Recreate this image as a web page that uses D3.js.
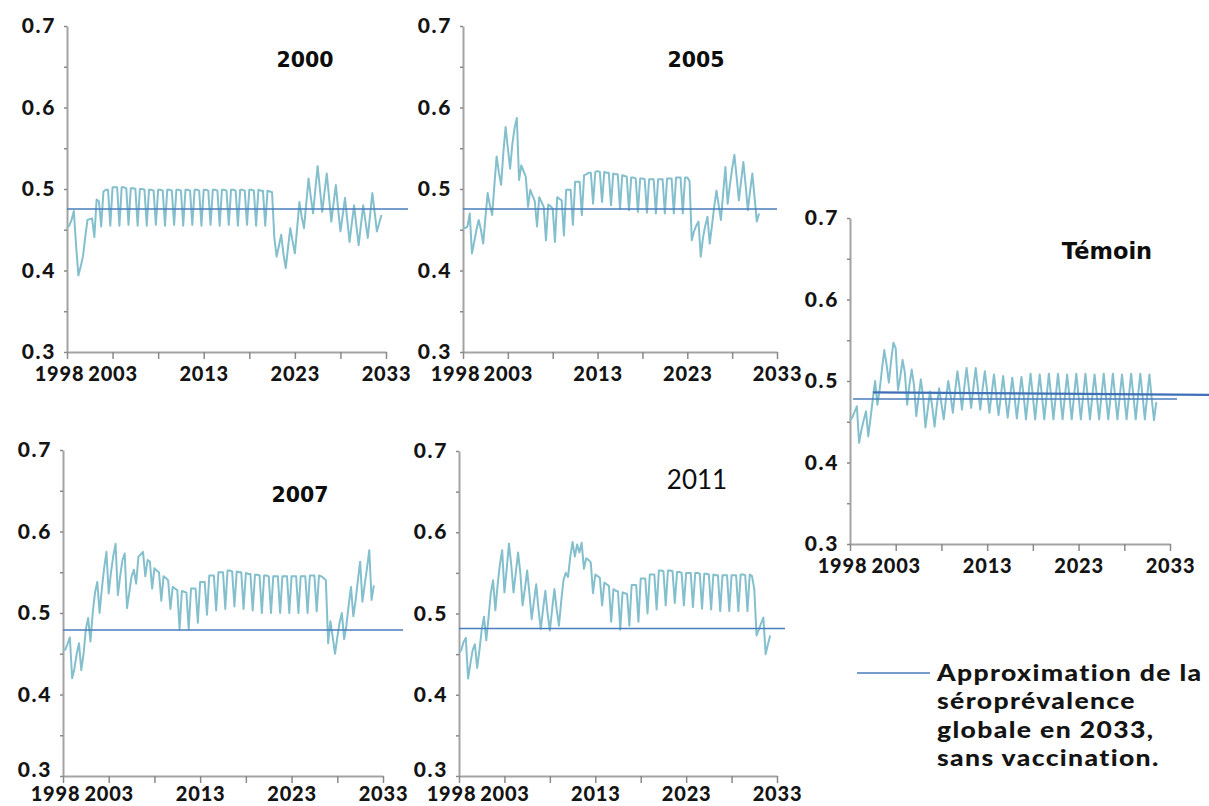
<!DOCTYPE html>
<html>
<head>
<meta charset="utf-8">
<script src="https://cdn.jsdelivr.net/npm/d3@7"></script>
<style>
  body { margin: 0; background: #fff; }
  svg { display: block; }
</style>
</head>
<body>
<svg id="chart" width="1209" height="806"></svg>
<script>
// ---- Data -----------------------------------------------------------------
// Quarterly seroprevalence, first sample at 1998.0, one row per year.
const startYear = 1998;
const step = 0.25;

const series2000 = [
  .452,.455,.462,.473, .430,.394,.405,.417, .441,.462,.463,.464, .441,.487,.485,.454,
  .497,.499,.499,.455, .502,.502,.502,.455, .502,.502,.501,.456, .501,.501,.500,.455,
  .500,.500,.499,.455, .499,.499,.498,.456, .499,.499,.498,.455, .499,.499,.498,.456,
  .499,.499,.498,.455, .499,.499,.498,.456, .499,.499,.498,.455, .499,.499,.498,.456,
  .499,.499,.498,.455, .499,.499,.498,.456, .499,.499,.498,.455, .499,.499,.498,.456,
  .499,.499,.498,.455, .499,.498,.498,.455, .498,.497,.496,.440, .417,.430,.444,.420,
  .403,.428,.452,.436, .421,.452,.484,.466, .452,.482,.513,.490, .470,.500,.528,.500,
  .472,.496,.519,.490, .460,.483,.505,.475, .448,.468,.489,.462, .435,.458,.480,.455,
  .431,.456,.480,.460, .440,.468,.495,.472, .448,.458,.468
];

const series2005 = [
  .452,.452,.454,.470, .421,.435,.450,.462, .450,.433,.465,.495, .480,.468,.505,.540,
  .520,.505,.545,.576, .550,.525,.555,.575, .587,.511,.529,.522, .515,.478,.499,.492,
  .485,.454,.490,.484, .478,.437,.481,.479, .476,.435,.490,.488, .486,.443,.499,.499,
  .499,.456,.509,.509, .509,.468,.517,.518, .520,.520,.482,.521, .522,.521,.484,.521,
  .520,.520,.480,.519, .518,.518,.476,.517, .516,.515,.474,.514, .514,.513,.472,.513,
  .513,.512,.471,.512, .512,.512,.470,.512, .512,.512,.470,.513, .513,.513,.470,.514,
  .514,.514,.470,.514, .514,.510,.437,.448, .455,.460,.417,.440, .455,.466,.433,.455,
  .478,.498,.480,.462, .495,.527,.482,.505, .525,.542,.515,.486, .510,.533,.505,.474,
  .497,.519,.490,.460, .470
];

const series2007 = [
  .455,.455,.462,.470, .420,.432,.450,.463, .430,.450,.480,.494, .465,.500,.525,.538,
  .500,.530,.555,.575, .524,.550,.570,.585, .522,.545,.565,.573, .506,.525,.545,.553,
  .536,.569,.572,.575, .545,.565,.563,.530, .555,.552,.550,.515, .545,.543,.540,.505,
  .532,.530,.528,.480, .527,.526,.525,.480, .530,.530,.530,.488, .538,.538,.538,.498,
  .546,.546,.546,.503, .550,.550,.550,.505, .552,.552,.551,.508, .551,.550,.550,.505,
  .549,.548,.548,.503, .547,.547,.546,.500, .546,.546,.545,.500, .545,.545,.545,.500,
  .545,.545,.545,.500, .545,.545,.545,.500, .545,.545,.545,.500, .546,.546,.546,.502,
  .546,.545,.543,.540, .463,.490,.470,.450, .470,.488,.500,.468, .485,.510,.532,.496,
  .515,.540,.563,.514, .535,.555,.577,.516, .534
];

const series2011 = [
  .452,.455,.465,.470, .420,.438,.455,.462, .433,.455,.480,.496, .467,.495,.525,.541,
  .504,.535,.560,.578, .526,.555,.586,.560, .526,.550,.575,.550, .510,.530,.553,.525,
  .493,.515,.536,.505, .481,.505,.528,.500, .479,.505,.530,.505, .485,.515,.541,.550,
  .545,.570,.588,.570, .585,.575,.587,.555, .568,.566,.563,.525, .548,.546,.544,.510,
  .538,.536,.534,.490, .530,.528,.527,.480, .526,.525,.524,.485, .535,.535,.535,.490,
  .543,.543,.543,.500, .548,.548,.548,.505, .553,.553,.552,.510, .553,.553,.552,.513,
  .551,.551,.550,.510, .550,.550,.550,.508, .550,.550,.549,.506, .549,.549,.548,.505,
  .548,.547,.547,.503, .547,.547,.547,.503, .547,.547,.547,.503, .548,.548,.547,.503,
  .548,.546,.530,.473, .480,.488,.495,.450, .462,.473
];

const seriesTemoin = [
  .452,.455,.462,.469, .424,.440,.452,.463, .432,.455,.478,.500, .471,.490,.515,.538,
  .520,.498,.525,.547, .540,.489,.505,.526, .510,.471,.495,.514, .495,.457,.480,.502,
  .480,.443,.465,.487, .468,.444,.470,.491, .472,.453,.478,.500, .482,.461,.488,.512,
  .490,.465,.492,.516, .492,.467,.492,.516, .490,.465,.490,.512, .488,.461,.485,.508,
  .482,.458,.482,.506, .480,.455,.480,.504, .480,.454,.480,.505, .481,.453,.481,.509,
  .481,.453,.481,.508, .481,.453,.481,.509, .481,.453,.481,.509, .481,.453,.481,.508,
  .481,.453,.481,.509, .481,.453,.481,.509, .481,.453,.481,.508, .481,.453,.481,.509,
  .481,.453,.481,.509, .481,.453,.481,.508, .481,.453,.481,.509, .481,.453,.481,.509,
  .481,.453,.481,.508, .478,.452,.474
];

const panelTitles = ["2000", "2005", "2007", "2011", "Témoin"];
// Estimated 2033 seroprevalence without vaccination, one level per panel
const approxLevels = [0.4755, 0.4755, 0.479, 0.4815, 0.478];
// Second approximation segment shown on the control panel: [year, level]
const temoinApprox = [[2000.5, 0.486], [2037.3, 0.483]];

const xTickValues = [1998, 2003, 2008, 2013, 2018, 2023, 2028, 2033];
const xTickLabels = ["1998", "2003", "", "2013", "", "2023", "", "2033"];
const yTickValues = [0.3, 0.35, 0.4, 0.45, 0.5, 0.55, 0.6, 0.65, 0.7];
const yTickLabels = ["0.3", "", "0.4", "", "0.5", "", "0.6", "", "0.7"];

const legendLines = [
  "Approximation de la",
  "séroprévalence",
  "globale en 2033,",
  "sans vaccination."
];

// ---- Layout ---------------------------------------------------------------
// lowLift: upward nudge of the lowest y label where the year labels sit close below it
const panels = [
  { series: series2000,   title: panelTitles[0], x0: 67,  x1: 386,  top: 26,  bottom: 352, refEnd: 408,  tx: 305,  ty: 67,  tsize: 20.5, bold: true,  labelPad: 8, lowLift: 0 },
  { series: series2005,   title: panelTitles[1], x0: 463, x1: 777,  top: 26,  bottom: 352, refEnd: 777,  tx: 696,  ty: 67,  tsize: 20.5, bold: true,  labelPad: 8, lowLift: 0 },
  { series: series2007,   title: panelTitles[2], x0: 63,  x1: 383,  top: 450, bottom: 776, refEnd: 403,  tx: 300,  ty: 502, tsize: 20.5, bold: true,  labelPad: 4, lowLift: 6.5 },
  { series: series2011,   title: panelTitles[3], x0: 459, x1: 777,  top: 451, bottom: 776, refEnd: 785,  tx: 697,  ty: 489, tsize: 26,   bold: false, labelPad: 4, lowLift: 6.5 },
  { series: seriesTemoin, title: panelTitles[4], x0: 850, x1: 1170, top: 218, bottom: 544, refEnd: 1177, tx: 1107, ty: 259, tsize: 22.5, bold: true,  labelPad: 8, lowLift: 0 }
];

const seriesColor = "#84bfcd";
const refColor = "#4a7dbd";
const axisColor = "#a3a3a3";
const textColor = "#141414";
const labelFont = "Lato, 'Open Sans', sans-serif";

const svg = d3.select("#chart");

panels.forEach((p, i) => {
  const x = d3.scaleLinear().domain([1998, 2033]).range([p.x0, p.x1]);
  const y = d3.scaleLinear().domain([0.3, 0.7]).range([p.bottom, p.top]);
  const g = svg.append("g").attr("class", "panel");

  // y axis
  const yAxis = d3.axisLeft(y)
    .tickValues(yTickValues)
    .tickFormat((d, k) => yTickLabels[k])
    .tickSize(3).tickSizeOuter(0).tickPadding(8);
  const ya = g.append("g").attr("transform", `translate(${p.x0},0)`).call(yAxis);

  // x axis
  const xAxis = d3.axisBottom(x)
    .tickValues(xTickValues)
    .tickFormat((d, k) => xTickLabels[k])
    .tickSize(7).tickSizeOuter(0).tickPadding(p.labelPad);
  const xa = g.append("g").attr("transform", `translate(0,${p.bottom})`).call(xAxis);
  xa.selectAll(".tick text").filter(d => d === 1998).attr("dx", -8);

  [ya, xa].forEach(a => {
    a.select(".domain").attr("stroke", axisColor).attr("stroke-width", 2);
    a.selectAll(".tick line").attr("stroke", "#8a8a8a").attr("stroke-width", 1.5);
    a.selectAll(".tick text")
      .attr("fill", textColor)
      .style("font-family", labelFont)
      .style("font-weight", 900)
      .style("font-size", "20px")
      .style("letter-spacing", "0.8px");
  });
  ya.selectAll(".tick text")
    .style("font-size", "21px")
    .style("letter-spacing", "1.6px");
  if (p.lowLift) {
    ya.selectAll(".tick text").filter(d => d === 0.3)
      .attr("transform", `translate(0,${-p.lowLift})`);
  }

  // series
  const line = d3.line()
    .x((d, k) => x(startYear + k * step))
    .y(d => y(d))
    .curve(d3.curveLinear);
  g.append("path")
    .datum(p.series)
    .attr("d", line)
    .attr("fill", "none")
    .attr("stroke", seriesColor)
    .attr("stroke-width", 2)
    .attr("stroke-linejoin", "round");

  // approximation level
  g.append("line")
    .attr("x1", i === 4 ? p.x0 + 3 : p.x0)
    .attr("x2", p.refEnd)
    .attr("y1", y(approxLevels[i]))
    .attr("y2", y(approxLevels[i]))
    .attr("stroke", refColor)
    .attr("stroke-width", 1.5);

  if (i === 4) {
    g.append("line")
      .attr("x1", x(temoinApprox[0][0])).attr("y1", y(temoinApprox[0][1]))
      .attr("x2", x(temoinApprox[1][0])).attr("y2", y(temoinApprox[1][1]))
      .attr("stroke", "#3f6fb6")
      .attr("stroke-width", 2.2);
  }

  // title
  g.append("text")
    .attr("x", p.tx).attr("y", p.ty)
    .attr("text-anchor", "middle")
    .attr("fill", "#0d0d0d")
    .style("font-family", p.bold ? "'DejaVu Sans', Verdana, sans-serif" : labelFont)
    .style("font-weight", p.bold ? 700 : 400)
    .style("font-size", p.tsize + "px")
    .text(p.title);
});

// ---- Legend ---------------------------------------------------------------
const legend = svg.append("g").attr("class", "legend");
legend.append("line")
  .attr("x1", 857).attr("x2", 930).attr("y1", 673).attr("y2", 673)
  .attr("stroke", refColor).attr("stroke-width", 1.5);
// wide bold caption, slightly stretched horizontally
legend.append("g")
  .attr("transform", "translate(937,0) scale(1.13,1)")
  .selectAll("text")
  .data(legendLines)
  .join("text")
  .attr("x", 0)
  .attr("y", (d, k) => 681 + k * 28.3)
  .attr("fill", textColor)
  .style("font-family", labelFont)
  .style("font-weight", 900)
  .style("font-size", "23.5px")
  .style("letter-spacing", "1.2px")
  .text(d => d);
</script>
</body>
</html>
